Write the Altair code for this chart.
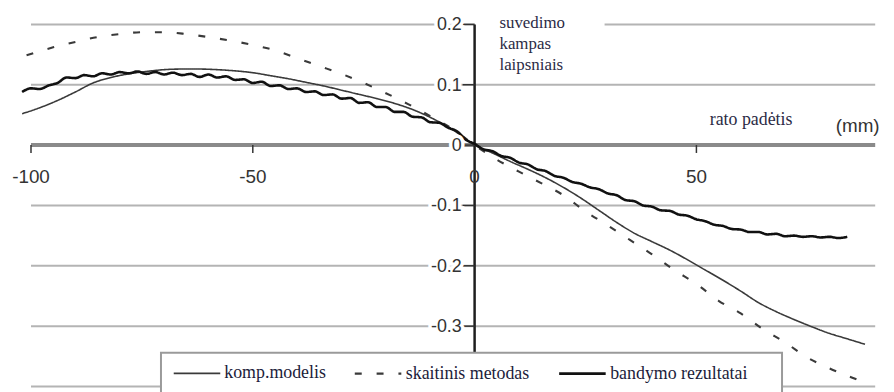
import altair as alt
import pandas as pd

series_names = ["komp.modelis", "skaitinis metodas", "bandymo rezultatai"]

# komp.modelis (smooth thin line)
komp_x = [-102, -98, -94, -90, -86, -82, -78, -74, -70, -66, -62, -58, -54, -50, -46, -42, -38, -34, -30, -26,
          -22, -18, -14, -10, -6, -3, 0, 4, 8, 12, 16, 20, 24, 28, 32, 36, 40, 44, 48, 52, 56, 60, 64, 68, 72,
          76, 80, 84, 88]
komp_y = [0.052, 0.062, 0.074, 0.088, 0.103, 0.112, 0.118, 0.122, 0.125, 0.126,
          0.126, 0.125, 0.123, 0.120, 0.115, 0.110, 0.104, 0.098, 0.091, 0.084,
          0.077, 0.069, 0.059, 0.046, 0.030, 0.016, 0.000,
          -0.013, -0.027, -0.040, -0.054, -0.070, -0.088, -0.108, -0.128, -0.146, -0.160,
          -0.174, -0.190, -0.207, -0.224, -0.242, -0.261, -0.276, -0.289, -0.301, -0.312,
          -0.321, -0.330]

# skaitinis metodas (dashed)
skait_x = [-101, -95, -90, -85, -80, -75, -70, -65, -60, -55, -50, -45, -40, -35, -30, -25, -20, -15, -10, -5,
           0, 5, 10, 15, 20, 25, 30, 35, 40, 45, 50, 55, 60, 65, 70, 75, 80, 85, 88]
skait_y = [0.149, 0.162, 0.171, 0.179, 0.184, 0.187, 0.187, 0.184, 0.179, 0.173,
           0.166, 0.157, 0.144, 0.131, 0.118, 0.103, 0.086, 0.068, 0.048, 0.027,
           0.000, -0.024, -0.044, -0.063, -0.083, -0.110, -0.133, -0.157, -0.181, -0.207,
           -0.230, -0.258, -0.279, -0.305, -0.327, -0.352, -0.370, -0.385, -0.393]

# bandymo rezultatai (measured, noisy)
band_x = list(range(-102, 86, 2))
band_y = [0.088, 0.094, 0.093, 0.099, 0.103, 0.112, 0.111, 0.116, 0.114, 0.119,
          0.117, 0.121, 0.119, 0.122, 0.118, 0.121, 0.117, 0.120, 0.116, 0.118,
          0.113, 0.117, 0.112, 0.114, 0.108, 0.109, 0.103, 0.105, 0.098, 0.099,
          0.093, 0.094, 0.088, 0.089, 0.083, 0.084, 0.077, 0.078, 0.070, 0.071,
          0.063, 0.063, 0.055, 0.055, 0.047, 0.046, 0.038, 0.037, 0.029, 0.023,
          0.009, 0.002, -0.007, -0.010, -0.018, -0.021, -0.029, -0.032, -0.040, -0.043,
          -0.051, -0.054, -0.061, -0.064, -0.070, -0.073, -0.080, -0.083, -0.091, -0.093,
          -0.100, -0.102, -0.108, -0.109, -0.115, -0.117, -0.123, -0.126, -0.132, -0.134,
          -0.139, -0.140, -0.144, -0.144, -0.148, -0.147, -0.151, -0.150, -0.152, -0.151,
          -0.153, -0.152, -0.154, -0.152]

ytick_vals = [0.2, 0.1, 0.0, -0.1, -0.2, -0.3]
ytick_labels = ["0.2", "0.1", "0", "-0.1", "-0.2", "-0.3"]
xtick_vals = [-100, -50, 0, 50]
xtick_labels = ["-100", "-50", "0", "50"]
grid_vals = [0.1, -0.1, -0.2, -0.3, -0.4]

y_title_lines = "suvedimo\nkampas\nlaipsniais"
x_title = "rato padėtis"
x_unit = "(mm)"

rows = []
for name, xs_, ys_ in [(series_names[0], komp_x, komp_y),
                       (series_names[1], skait_x, skait_y),
                       (series_names[2], band_x, band_y)]:
    for a, b in zip(xs_, ys_):
        rows.append({"x": a, "y": b, "s": name})
df = pd.DataFrame(rows)

XS = alt.Scale(domain=[-102.5, 90.5], nice=False, zero=False)
YS = alt.Scale(domain=[-0.4, 0.2], nice=False, zero=False)

GRID_C = "#b4b4b4"

grid = alt.Chart(pd.DataFrame({"g": grid_vals})).mark_rule(color=GRID_C, strokeWidth=2).encode(
    y=alt.Y("g:Q", scale=YS, axis=None),
    x=alt.XDatum(-100, scale=XS, axis=None),
    x2=alt.X2Datum(90.3),
)
grid_top_l = alt.Chart(pd.DataFrame({"g": [0.2]})).mark_rule(color=GRID_C, strokeWidth=2).encode(
    y=alt.Y("g:Q", scale=YS, axis=None),
    x=alt.XDatum(-100, scale=XS, axis=None),
    x2=alt.X2Datum(0),
)
grid_top_r = alt.Chart(pd.DataFrame({"g": [0.2]})).mark_rule(color=GRID_C, strokeWidth=2).encode(
    y=alt.Y("g:Q", scale=YS, axis=None),
    x=alt.XDatum(29.3, scale=XS, axis=None),
    x2=alt.X2Datum(90.3),
)

x_axis = alt.Chart(pd.DataFrame({"g": [0.0]})).mark_rule(color="#8a8a8a", strokeWidth=4).encode(
    y=alt.Y("g:Q", scale=YS, axis=None),
    x=alt.XDatum(-100, scale=XS, axis=None),
    x2=alt.X2Datum(90.3),
)
y_axis = alt.Chart(pd.DataFrame({"g": [0.0]})).mark_rule(color="#1e1e1e", strokeWidth=2.5).encode(
    x=alt.X("g:Q", scale=XS, axis=None),
    y=alt.YDatum(0.2, scale=YS, axis=None),
    y2=alt.Y2Datum(-0.4),
)

# white legend frame (drawn over the lowest gridline and the y axis end)
legend_box = alt.Chart(pd.DataFrame({"g": [0]})).mark_rect(
    fill="white", stroke="#9a9a9a", strokeWidth=2,
).encode(
    x=alt.XDatum(-70.7, scale=XS, axis=None),
    x2=alt.X2Datum(69.3),
    y=alt.YDatum(-0.344, scale=YS, axis=None),
    y2=alt.Y2Datum(-0.45),
)

ytick_df = pd.DataFrame({"v": ytick_vals, "t": ytick_labels})
xtick_df = pd.DataFrame({"v": xtick_vals, "t": xtick_labels})

yticks = alt.Chart(ytick_df).mark_rule(color="#333333", strokeWidth=1.5).encode(
    y=alt.Y("v:Q", scale=YS, axis=None),
    x=alt.XDatum(-2.7, scale=XS, axis=None),
    x2=alt.X2Datum(0),
)
xticks = alt.Chart(xtick_df[xtick_df["v"] != 0]).mark_rule(color="#333333", strokeWidth=1.5).encode(
    x=alt.X("v:Q", scale=XS, axis=None),
    y=alt.YDatum(0, scale=YS, axis=None),
    y2=alt.Y2Datum(-0.013),
)

LABEL_FONT = "Liberation Sans"
ylab_halo = alt.Chart(ytick_df).mark_text(
    align="right", baseline="middle", dx=-13, dy=1, font=LABEL_FONT, fontSize=18,
    color="white", stroke="white", strokeWidth=7,
).encode(
    y=alt.Y("v:Q", scale=YS, axis=None),
    x=alt.XDatum(0, scale=XS, axis=None),
    text="t:N",
)
ylab = alt.Chart(ytick_df).mark_text(
    align="right", baseline="middle", dx=-13, dy=1, font=LABEL_FONT, fontSize=18, color="#333333",
).encode(
    y=alt.Y("v:Q", scale=YS, axis=None),
    x=alt.XDatum(0, scale=XS, axis=None),
    text="t:N",
)
xlab = alt.Chart(xtick_df).mark_text(
    align="center", baseline="middle", dy=32, font=LABEL_FONT, fontSize=19, color="#333333",
).encode(
    x=alt.X("v:Q", scale=XS, axis=None),
    y=alt.YDatum(0, scale=YS, axis=None),
    text="t:N",
)

ytitle = alt.Chart(pd.DataFrame({"t": [y_title_lines]})).mark_text(
    align="left", baseline="top", font="Liberation Serif", fontSize=17, lineHeight=21.5,
    lineBreak="\n", color="#2b2b45",
).encode(
    x=alt.XDatum(5.6, scale=XS, axis=None),
    y=alt.YDatum(0.216, scale=YS, axis=None),
    text="t:N",
)
xtitle = alt.Chart(pd.DataFrame({"t": [x_title]})).mark_text(
    align="left", baseline="middle", font="Liberation Serif", fontSize=18, color="#2b2b45",
).encode(
    x=alt.XDatum(53, scale=XS, axis=None),
    y=alt.YDatum(0.041, scale=YS, axis=None),
    text="t:N",
)
xunit = alt.Chart(pd.DataFrame({"t": [x_unit]})).mark_text(
    align="left", baseline="middle", font=LABEL_FONT, fontSize=19, color="#333333",
).encode(
    x=alt.XDatum(81.4, scale=XS, axis=None),
    y=alt.YDatum(0.031, scale=YS, axis=None),
    text="t:N",
)

lines = alt.Chart(df).mark_line(interpolate="monotone").encode(
    x=alt.X("x:Q", scale=XS, axis=None),
    y=alt.Y("y:Q", scale=YS, axis=None),
    color=alt.Color("s:N", scale=alt.Scale(domain=series_names, range=["#3a3a3a", "#3a3a3a", "#111111"]),
                    legend=alt.Legend(title=None)),
    strokeDash=alt.StrokeDash("s:N", scale=alt.Scale(domain=series_names, range=[[1, 0], [7, 15], [1, 0]]),
                              legend=alt.Legend(title=None)),
    strokeWidth=alt.StrokeWidth("s:N", scale=alt.Scale(domain=series_names, range=[1.6, 2.6, 3.0]),
                                legend=alt.Legend(title=None)),
)

chart = alt.layer(
    grid, grid_top_l, grid_top_r, x_axis, y_axis, legend_box, yticks, xticks,
    lines, ylab_halo, ylab, xlab, ytitle, xtitle, xunit,
).properties(
    width=863, height=365,
    padding={"left": 12, "top": 15, "right": 10, "bottom": 4},
    autosize="none",
).configure_view(stroke=None).configure_legend(
    orient="none", legendX=154, legendY=327, direction="horizontal",
    padding=0,
    symbolType="stroke", symbolSize=2200, labelFont="Liberation Serif", labelFontSize=18,
    labelColor="#1c1c3a", labelOffset=3, columnPadding=24, labelLimit=400,
)

chart.save("out.html", embed_options={"renderer": "svg", "actions": False})
